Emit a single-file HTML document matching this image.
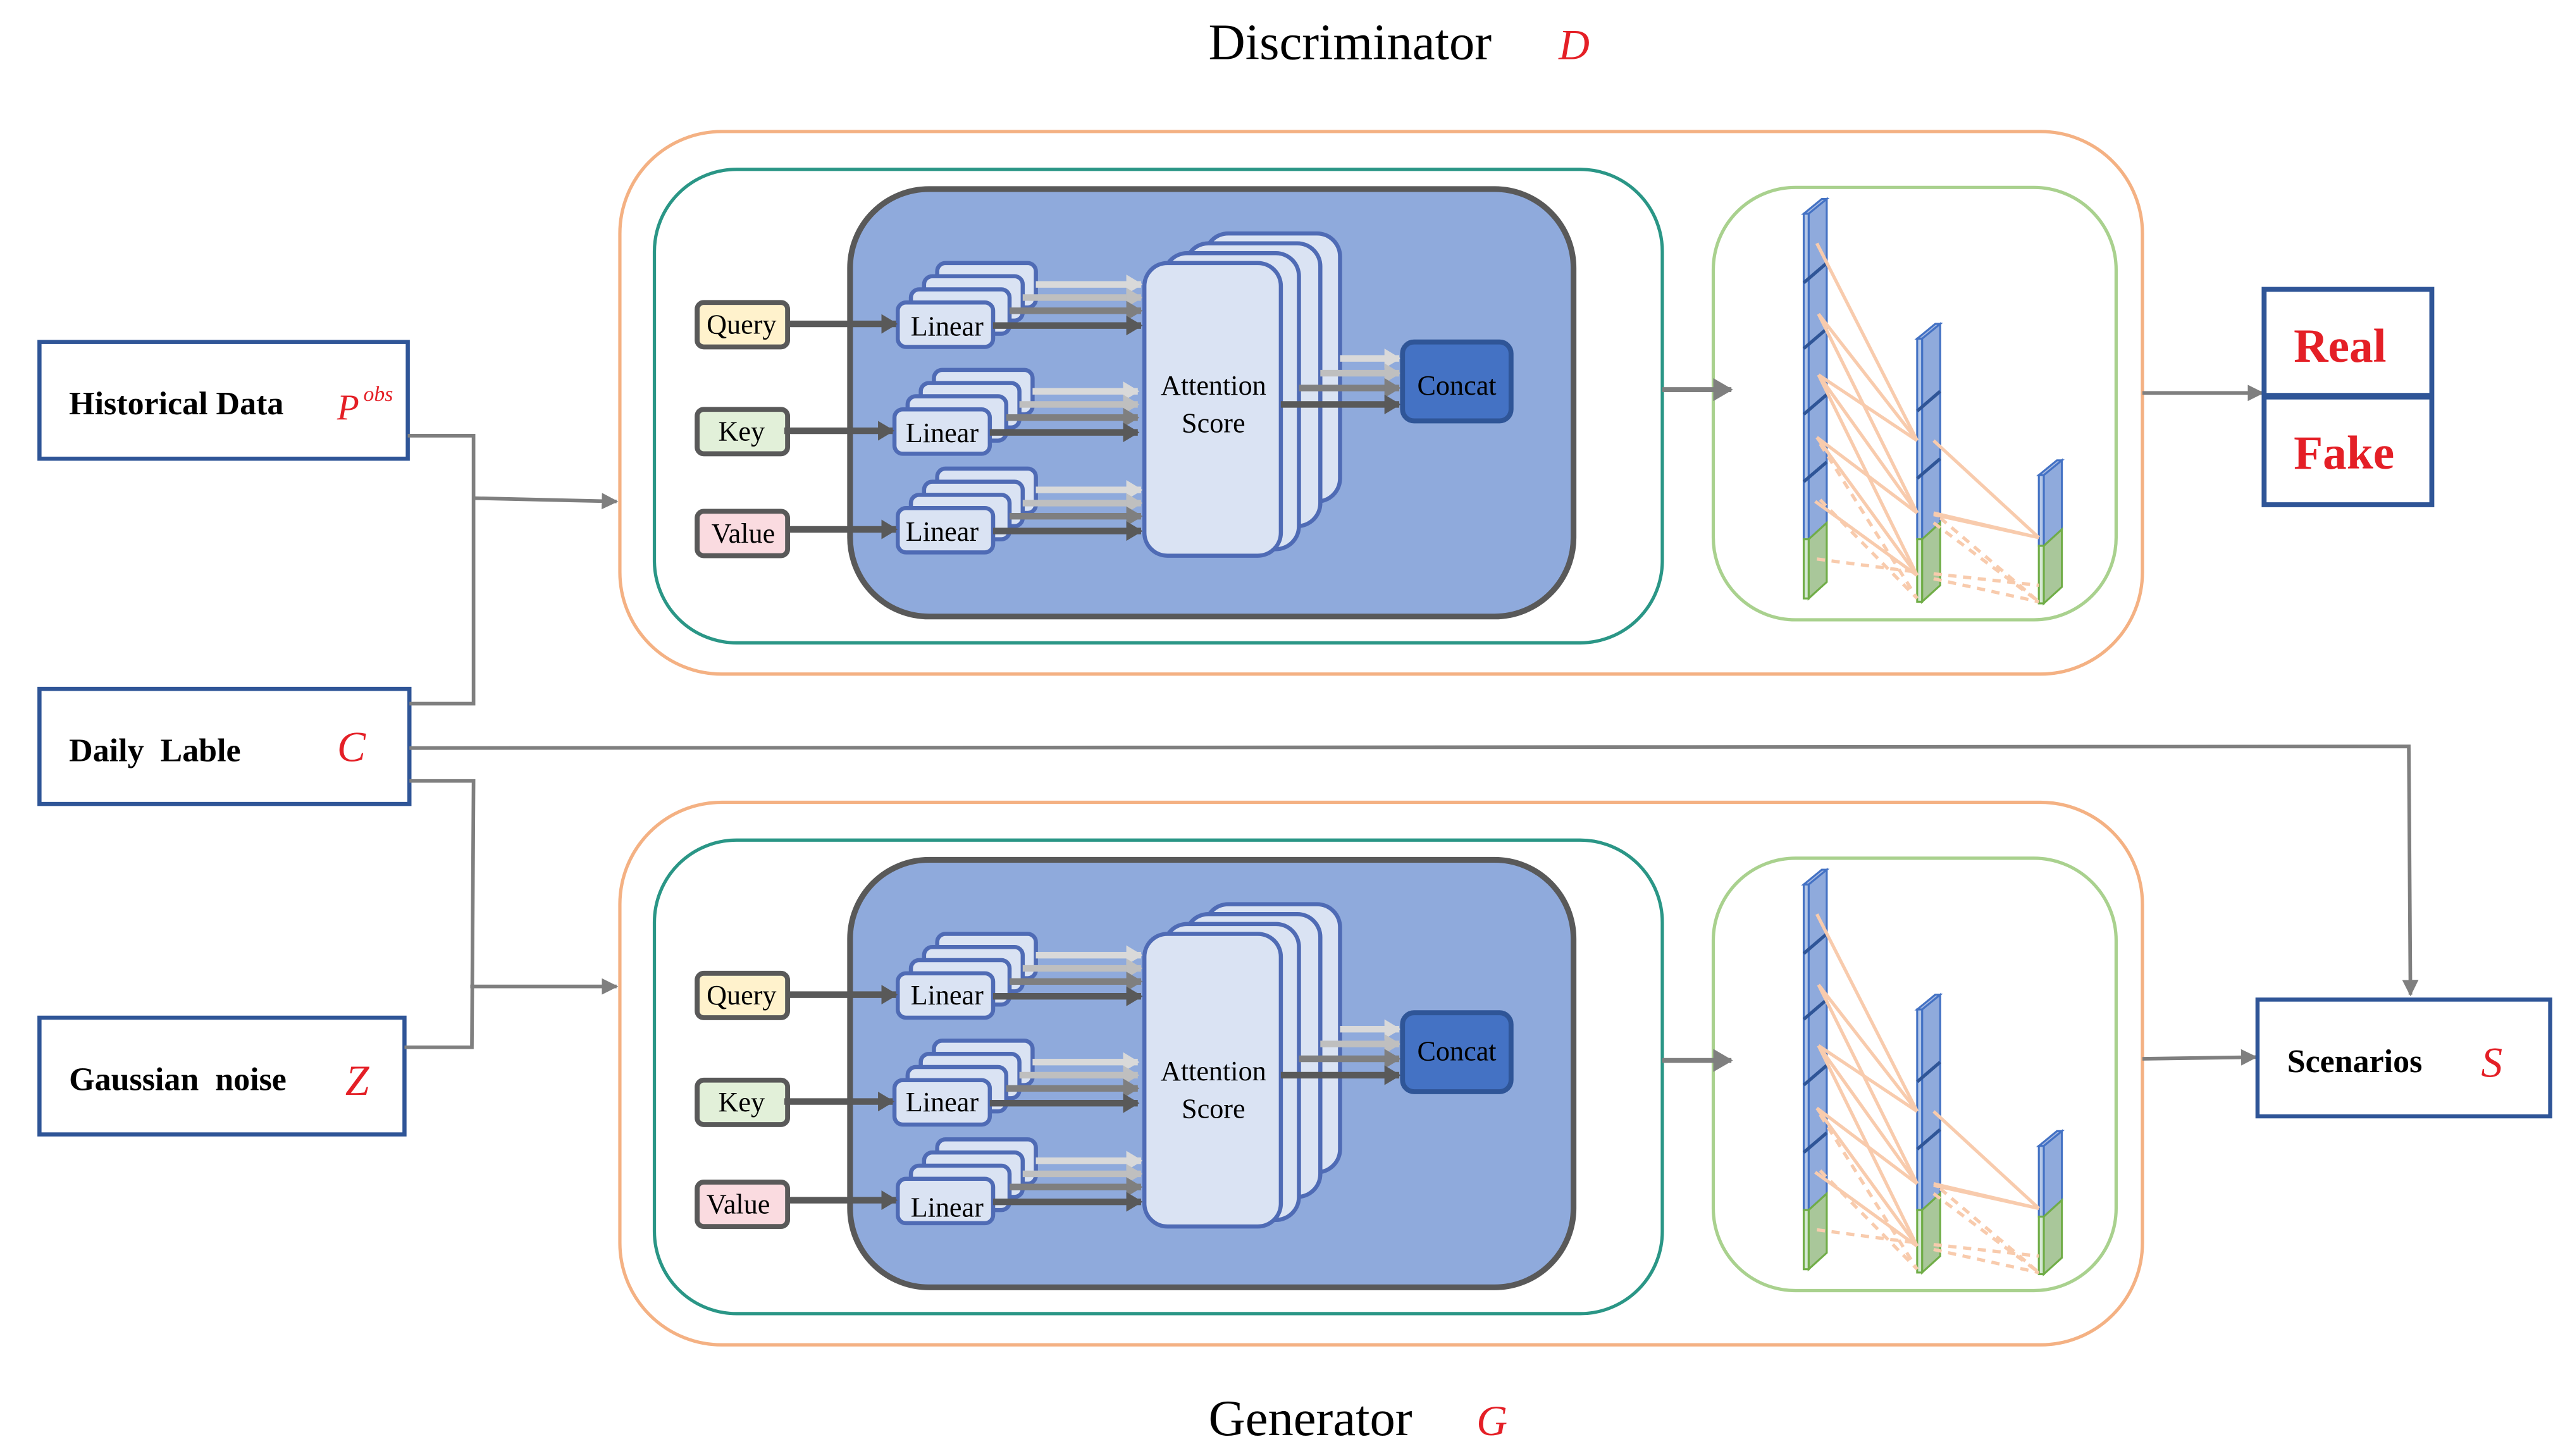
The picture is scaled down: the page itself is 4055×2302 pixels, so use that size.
<!DOCTYPE html>
<html><head><meta charset="utf-8"><style>
html,body{margin:0;padding:0;background:#fff;}
svg{display:block;}
text{font-family:"Liberation Serif",serif;}
</style></head><body>
<svg width="4055" height="2302" viewBox="0 0 1560 885.6" preserveAspectRatio="none" xmlns="http://www.w3.org/2000/svg">
<defs>
<marker id="ag" markerWidth="10" markerHeight="10" refX="9" refY="5" orient="auto" markerUnits="userSpaceOnUse"><path d="M0,0 L10,5 L0,10 z" fill="#7f7f7f"/></marker>
<marker id="ag2" markerWidth="12" markerHeight="14" refX="11" refY="7" orient="auto" markerUnits="userSpaceOnUse"><path d="M0,0 L12,7 L0,14 z" fill="#7f7f7f"/></marker>
<marker id="a1" markerWidth="10" markerHeight="12" refX="9" refY="6" orient="auto" markerUnits="userSpaceOnUse"><path d="M0,0 L10,6 L0,12 z" fill="#595959"/></marker>
<marker id="a2" markerWidth="10" markerHeight="12" refX="9" refY="6" orient="auto" markerUnits="userSpaceOnUse"><path d="M0,0 L10,6 L0,12 z" fill="#7f7f7f"/></marker>
<marker id="a3" markerWidth="10" markerHeight="12" refX="9" refY="6" orient="auto" markerUnits="userSpaceOnUse"><path d="M0,0 L10,6 L0,12 z" fill="#bfbfbf"/></marker>
<marker id="a4" markerWidth="10" markerHeight="12" refX="9" refY="6" orient="auto" markerUnits="userSpaceOnUse"><path d="M0,0 L10,6 L0,12 z" fill="#d9d9d9"/></marker>

<g id="lin">
 <rect x="570" y="160" width="60" height="27" rx="5" fill="#dae3f3" stroke="#4f6bb5" stroke-width="2.5"/>
 <rect x="562" y="168" width="60" height="27" rx="5" fill="#dae3f3" stroke="#4f6bb5" stroke-width="2.5"/>
 <rect x="554" y="176" width="60" height="27" rx="5" fill="#dae3f3" stroke="#4f6bb5" stroke-width="2.5"/>
 <rect x="546" y="184" width="58" height="27" rx="5" fill="#dae3f3" stroke="#4f6bb5" stroke-width="2.5"/>
 <line x1="630" y1="173" x2="694" y2="173" stroke="#d9d9d9" stroke-width="4" marker-end="url(#a4)"/>
 <line x1="622" y1="181" x2="694" y2="181" stroke="#bfbfbf" stroke-width="4" marker-end="url(#a3)"/>
 <line x1="614" y1="189" x2="694" y2="189" stroke="#7f7f7f" stroke-width="4" marker-end="url(#a2)"/>
 <line x1="604" y1="198" x2="694" y2="198" stroke="#595959" stroke-width="4" marker-end="url(#a1)"/>
 <line x1="479" y1="197" x2="545" y2="197" stroke="#595959" stroke-width="4" marker-end="url(#a1)"/>
</g>

<g id="block">
 <rect x="377" y="80" width="926" height="330" rx="62" fill="#fff" stroke="#f4b183" stroke-width="2"/>
 <rect x="398" y="103" width="613" height="288" rx="50" fill="#fff" stroke="#2a9686" stroke-width="2"/>
 <rect x="517" y="115" width="440" height="260" rx="48" fill="#8faadc" stroke="#595959" stroke-width="3.5"/>
 <rect x="424" y="184" width="55" height="27" rx="4" fill="#fff2cc" stroke="#595959" stroke-width="3"/>
 <rect x="424" y="249" width="55" height="27" rx="4" fill="#e2f0d9" stroke="#595959" stroke-width="3"/>
 <rect x="424" y="311" width="55" height="27" rx="4" fill="#fadbe0" stroke="#595959" stroke-width="3"/>
 <use href="#lin"/>
 <use href="#lin" transform="translate(-2,65)"/>
 <use href="#lin" transform="translate(0,125)"/>
 <rect x="733" y="142" width="82" height="163" rx="14" fill="#dae3f3" stroke="#4f6bb5" stroke-width="2.5"/>
 <rect x="721" y="148" width="82" height="172" rx="14" fill="#dae3f3" stroke="#4f6bb5" stroke-width="2.5"/>
 <rect x="708" y="154" width="82" height="180" rx="14" fill="#dae3f3" stroke="#4f6bb5" stroke-width="2.5"/>
 <rect x="696" y="160" width="83" height="178" rx="14" fill="#dae3f3" stroke="#4f6bb5" stroke-width="2.5"/>
 <line x1="815" y1="218" x2="851" y2="218" stroke="#d9d9d9" stroke-width="4" marker-end="url(#a4)"/>
 <line x1="803" y1="227" x2="851" y2="227" stroke="#bfbfbf" stroke-width="4" marker-end="url(#a3)"/>
 <line x1="790" y1="236" x2="851" y2="236" stroke="#7f7f7f" stroke-width="4" marker-end="url(#a2)"/>
 <line x1="779" y1="246" x2="851" y2="246" stroke="#595959" stroke-width="4" marker-end="url(#a1)"/>
 <rect x="853" y="208" width="66" height="48" rx="7" fill="#4472c4" stroke="#2f5597" stroke-width="3"/>
 <rect x="1042" y="114" width="245" height="263" rx="50" fill="#fff" stroke="#a9d18e" stroke-width="2"/>
 <line x1="1011" y1="237" x2="1053" y2="237" stroke="#7f7f7f" stroke-width="3" marker-end="url(#ag2)"/>
 <g stroke-width="1.2">
  <!-- col1 -->
  <path d="M1097,130 L1100,130 L1111,121 L1108,121 Z" fill="#a8bbe3" stroke="#4472c4"/>
  <path d="M1100,130 L1111,121 L1111,318 L1100,328 Z" fill="#8faadc" stroke="#4472c4"/>
  <rect x="1097" y="130" width="3" height="198" fill="#b4c7e7" stroke="#4472c4"/>
  <path d="M1100,328 L1111,318 L1111,354 L1100,364 Z" fill="#a9c79a" stroke="#70ad47"/>
  <rect x="1097" y="328" width="3" height="36" fill="#d5e8d4" stroke="#70ad47"/>
  <!-- col2 -->
  <path d="M1166,206 L1169,206 L1180,197 L1177,197 Z" fill="#a8bbe3" stroke="#4472c4"/>
  <path d="M1169,206 L1180,197 L1180,318 L1169,328 Z" fill="#8faadc" stroke="#4472c4"/>
  <rect x="1166" y="206" width="3" height="122" fill="#b4c7e7" stroke="#4472c4"/>
  <path d="M1169,328 L1180,318 L1180,356 L1169,366 Z" fill="#a9c79a" stroke="#70ad47"/>
  <rect x="1166" y="328" width="3" height="38" fill="#d5e8d4" stroke="#70ad47"/>
  <!-- col3 -->
  <path d="M1240,289 L1243,289 L1254,280 L1251,280 Z" fill="#a8bbe3" stroke="#4472c4"/>
  <path d="M1243,289 L1254,280 L1254,322 L1243,332 Z" fill="#8faadc" stroke="#4472c4"/>
  <rect x="1240" y="289" width="3" height="43" fill="#b4c7e7" stroke="#4472c4"/>
  <path d="M1243,332 L1254,322 L1254,357 L1243,367 Z" fill="#a9c79a" stroke="#70ad47"/>
  <rect x="1240" y="332" width="3" height="35" fill="#d5e8d4" stroke="#70ad47"/>
 </g>
 <g stroke="#2f5597" stroke-width="2">
  <path d="M1097,172 L1111,160 M1097,212 L1111,200 M1097,252 L1111,240 M1097,293 L1111,281 M1166,250 L1180,238 M1166,291 L1180,279"/>
 </g>
 <g stroke="#f8cbad" stroke-width="2" fill="none">
  <path d="M1105,148 L1166,268 M1106,191 L1166,268 M1106,191 L1166,312 M1106,228 L1166,268 M1106,228 L1166,312 M1105,266 L1166,312 M1105,266 L1166,350 M1104,305 L1166,350 M1106,228 L1166,350 M1176,268 L1240,327 M1176,312 L1240,327 M1176,350 L1176,350 M1176,313 L1240,327"/>
  <path stroke-dasharray="5,4" d="M1107,270 L1166,364 M1107,304 L1166,364 M1105,340 L1166,348 M1176,318 L1240,366 M1176,352 L1240,366 M1180,315 L1240,366 M1176,349 L1240,356"/>
 </g>
</g>
</defs>

<!-- Titles -->
<text x="735" y="36" font-size="31">Discriminator</text>
<text x="948" y="36" font-size="26" font-style="italic" fill="#e41f26">D</text>
<text x="735" y="873" font-size="31">Generator</text>
<text x="898" y="873" font-size="26" font-style="italic" fill="#e41f26">G</text>

<use href="#block"/>
<use href="#block" transform="translate(0,408)"/>

<g font-size="17" text-anchor="middle">
 <text x="451" y="203">Query</text><text x="451" y="268">Key</text><text x="452" y="330">Value</text>
 <text x="576" y="204">Linear</text><text x="573" y="269">Linear</text><text x="573" y="329">Linear</text>
 <text x="738" y="240">Attention</text><text x="738" y="263">Score</text>
 <text x="886" y="240">Concat</text>
</g>
<g font-size="17" text-anchor="middle" transform="translate(0,408)">
 <text x="451" y="203">Query</text><text x="451" y="268">Key</text><text x="449" y="330">Value</text>
 <text x="576" y="203">Linear</text><text x="573" y="268">Linear</text><text x="576" y="332">Linear</text>
 <text x="738" y="249">Attention</text><text x="738" y="272">Score</text>
 <text x="886" y="237">Concat</text>
</g>

<rect x="24" y="208" width="224" height="71" fill="#fff" stroke="#2f5597" stroke-width="2.5"/>
<text x="42" y="252" font-size="20" font-weight="bold">Historical Data</text>
<text x="205" y="255" font-size="22" font-style="italic" fill="#e41f26">P</text>
<text x="221" y="244" font-size="13" font-style="italic" fill="#e41f26">obs</text>

<rect x="24" y="419" width="225" height="70" fill="#fff" stroke="#2f5597" stroke-width="2.5"/>
<text x="42" y="463" font-size="20" font-weight="bold" xml:space="preserve">Daily  Lable</text>
<text x="205" y="463" font-size="26" font-style="italic" fill="#e41f26">C</text>

<rect x="24" y="619" width="222" height="71" fill="#fff" stroke="#2f5597" stroke-width="2.5"/>
<text x="42" y="663" font-size="20" font-weight="bold" xml:space="preserve">Gaussian  noise</text>
<text x="210" y="666" font-size="26" font-style="italic" fill="#e41f26">Z</text>

<g stroke="#7f7f7f" stroke-width="2.2" fill="none">
 <polyline points="248,265 288,265 288,428 249,428"/>
 <line x1="288" y1="303" x2="375" y2="305" marker-end="url(#ag)"/>
 <polyline points="249,455 1465,454 1466,605" marker-end="url(#ag)"/>
 <polyline points="249,475 288,475 287,637 246,637"/>
 <line x1="286" y1="600" x2="375" y2="600" marker-end="url(#ag)"/>
 <line x1="1303" y1="239" x2="1376" y2="239" marker-end="url(#ag)"/>
 <line x1="1303" y1="644" x2="1372" y2="643" marker-end="url(#ag)"/>
</g>

<rect x="1377" y="176" width="102" height="131" fill="#fff" stroke="#2f5597" stroke-width="3"/>
<line x1="1377" y1="241" x2="1479" y2="241" stroke="#2f5597" stroke-width="4"/>
<text x="1395" y="220" font-size="29" font-weight="bold" fill="#e41f26">Real</text>
<text x="1395" y="285" font-size="29" font-weight="bold" fill="#e41f26">Fake</text>

<rect x="1373" y="608" width="178" height="71" fill="#fff" stroke="#2f5597" stroke-width="2.5"/>
<text x="1391" y="652" font-size="20" font-weight="bold">Scenarios</text>
<text x="1509" y="655" font-size="26" font-style="italic" fill="#e41f26">S</text>
</svg>
</body></html>
